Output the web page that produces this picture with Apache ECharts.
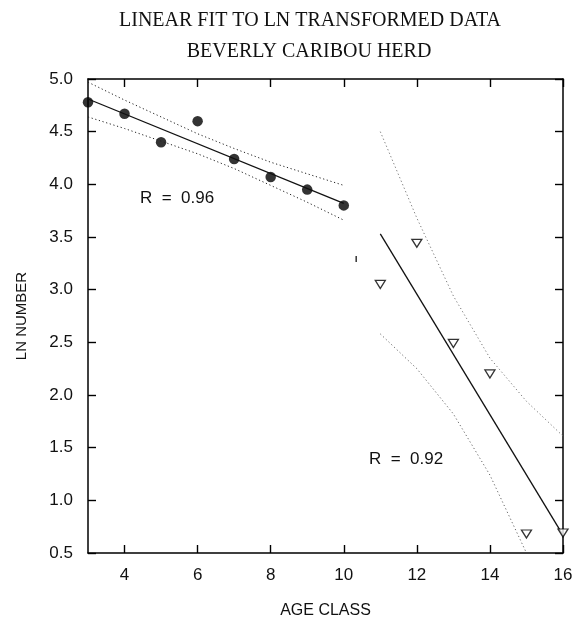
<!DOCTYPE html>
<html><head><meta charset="utf-8">
<script src="https://cdn.jsdelivr.net/npm/echarts@6/dist/echarts.min.js"></script>
<style>html,body{margin:0;padding:0;background:#fff}#c{width:584px;height:624px}</style>
</head><body><div id="c"></div>
<script>
// Data
const ageA = [3, 4, 5, 6, 7, 8, 9, 10];
const lnA = [4.78, 4.67, 4.40, 4.60, 4.24, 4.07, 3.95, 3.80];
const bandAUpper = [4.97, 4.80, 4.64, 4.48, 4.34, 4.21, 4.10, 3.99];
const bandALower = [4.64, 4.53, 4.41, 4.29, 4.15, 3.99, 3.83, 3.66];
const fitAx = [3, 10];
const fitAy = [4.81, 3.82];

const ageB = [11, 12, 13, 14, 15, 16];
const lnB = [3.05, 3.44, 2.49, 2.20, 0.68, 0.69];
const bandBUpper = [4.50, 3.68, 2.94, 2.35, 1.94, 1.61];
const ageBLow = [11, 12, 13, 14, 15];
const bandBLower = [2.58, 2.25, 1.82, 1.24, 0.50];
const fitBx = [11, 16];
const fitBy = [3.53, 0.67];

const strayMark = [[10.34, 3.29]];

const xTicks = [4, 6, 8, 10, 12, 14, 16];
const titleLines = ['LINEAR FIT TO LN TRANSFORMED DATA', 'BEVERLY CARIBOU HERD'];
const rLabels = ['R  =  0.96', 'R  =  0.92'];

const zip = (xs, ys) => xs.map((x, i) => [x, ys[i]]);
const ink = '#111';
const sans = 'Liberation Sans';

const chart = echarts.init(document.getElementById('c'), null, {renderer: 'canvas'});
const tickStyle = {color: '#000', width: 1.4};
const lineStyleAxis = {color: '#000', width: 1.5};
const xBase = {
  type: 'value', min: 3, max: 16,
  axisLine: {show: true, onZero: false, lineStyle: lineStyleAxis},
  splitLine: {show: false}
};
const yBase = {
  type: 'value', min: 0.5, max: 5, interval: 0.5,
  axisLine: {show: true, onZero: false, lineStyle: lineStyleAxis},
  axisTick: {show: true, inside: true, length: 8, lineStyle: tickStyle},
  splitLine: {show: false}
};
const dotted = (data, color) => ({
  type: 'line', data, symbol: 'none', silent: true,
  lineStyle: {color: color || '#333', width: 1, type: [1.2, 2.6]}
});
chart.setOption({
  animation: false,
  backgroundColor: '#fff',
  grid: {left: 88, right: 21, top: 79, bottom: 71},
  xAxis: [
    Object.assign({}, xBase, {
      position: 'bottom',
      name: 'AGE CLASS', nameLocation: 'middle', nameGap: 50,
      nameTextStyle: {fontFamily: sans, fontSize: 16, color: ink},
      axisTick: {show: true, inside: true, length: 8, customValues: xTicks, lineStyle: tickStyle},
      axisLabel: {show: true, customValues: xTicks, margin: 14, fontFamily: sans, fontSize: 17, color: ink}
    }),
    Object.assign({}, xBase, {
      position: 'top',
      axisTick: {show: true, inside: true, length: 8, customValues: xTicks, lineStyle: tickStyle},
      axisLabel: {show: false}
    })
  ],
  yAxis: [
    Object.assign({}, yBase, {
      position: 'left',
      name: 'LN NUMBER', nameLocation: 'middle', nameGap: 59, nameRotate: 90,
      nameTextStyle: {fontFamily: sans, fontSize: 15, color: ink},
      axisLabel: {show: true, margin: 15, fontFamily: sans, fontSize: 17, color: ink,
        formatter: v => v.toFixed(1)}
    }),
    Object.assign({}, yBase, {position: 'right', axisLabel: {show: false}})
  ],
  series: [
    dotted(zip(ageA, bandAUpper), '#222'),
    dotted(zip(ageA, bandALower), '#222'),
    dotted(zip(ageB, bandBUpper), '#777'),
    dotted(zip(ageBLow, bandBLower), '#666'),
    {type: 'line', data: zip(fitAx, fitAy), symbol: 'none', lineStyle: {color: ink, width: 1.3}},
    {type: 'line', data: zip(fitBx, fitBy), symbol: 'none', lineStyle: {color: ink, width: 1.3}},
    {type: 'scatter', data: zip(ageA, lnA), symbol: 'circle', symbolSize: 10.5, clip: false,
      itemStyle: {color: '#000'}},
    {type: 'scatter', data: zip(ageB, lnB), symbol: 'triangle', symbolRotate: 180, symbolSize: [10, 8], clip: false,
      itemStyle: {color: '#fff', borderColor: '#000', borderWidth: 1.3}, z: 5},
    {type: 'scatter', data: strayMark, symbol: 'rect', symbolSize: [1.5, 6], itemStyle: {color: '#000'}}
  ],
  graphic: [
    {type: 'text', x: 310, y: 21, style: {text: titleLines[0], fontFamily: 'Liberation Serif', fontSize: 20,
      fill: ink, align: 'center', verticalAlign: 'middle'}},
    {type: 'text', x: 309, y: 52, style: {text: titleLines[1], fontFamily: 'Liberation Serif', fontSize: 20,
      fill: ink, align: 'center', verticalAlign: 'middle'}},
    {type: 'text', x: 177, y: 198, style: {text: rLabels[0], fontFamily: sans, fontSize: 17,
      fill: ink, align: 'center', verticalAlign: 'middle'}},
    {type: 'text', x: 406, y: 459, style: {text: rLabels[1], fontFamily: sans, fontSize: 17,
      fill: ink, align: 'center', verticalAlign: 'middle'}}
  ]
});
</script></body></html>
